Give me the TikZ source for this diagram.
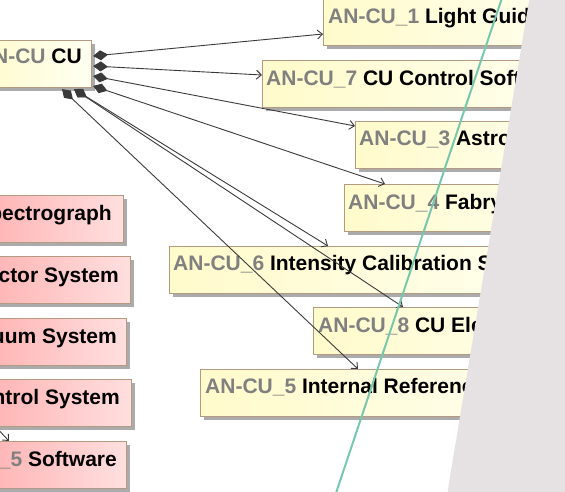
\documentclass[tikz,border=0pt]{standalone}
\usepackage{fontspec}
\setmainfont{Liberation Sans}
\usetikzlibrary{arrows.meta,shadows,calc}
\definecolor{bord}{HTML}{B39A80}
\definecolor{yL}{HTML}{FFFBCB}
\definecolor{yR}{HTML}{FFFFF2}
\definecolor{rL}{HTML}{FFA8A8}
\definecolor{rR}{HTML}{FFDFDF}
\definecolor{idg}{HTML}{808080}
\definecolor{conc}{HTML}{3A3A3A}
\definecolor{tealc}{HTML}{78C8AE}
\definecolor{greyp}{HTML}{E6E1E2}
\begin{document}
\begin{tikzpicture}[x=1pt,y=-1pt,
  box/.style={draw=bord, line width=1.1pt, anchor=north west, inner sep=0pt,
    minimum height=47pt,
    drop shadow={shadow xshift=3.5pt, shadow yshift=-3.5pt, fill=black!33, opacity=1}},
  ybox/.style={box, left color=yL, right color=yR},
  rbox/.style={box, left color=rL, right color=rR},
  lbl/.style={inner sep=0pt, font=\fontsize{21}{25}\selectfont\bfseries},
  conn/.style={draw=conc, line width=0.9pt},
  comp/.style={conn, {Diamond[length=15pt,width=10pt,fill=conc]}-{Straight Barb[length=5pt,width=9pt]}}
]
\useasboundingbox (0,0) rectangle (565,491);
\clip (0,0) rectangle (565,491);

% left (red) boxes
\node[rbox, minimum width=173pt] (r1) at (-50,195) {};
\node[rbox, minimum width=180pt] (r2) at (-50,256) {};
\node[rbox, minimum width=176pt] (r3) at (-50,318) {};
\node[rbox, minimum width=181pt] (r4) at (-50,379) {};
\node[rbox, minimum width=176pt] (r5) at (-50,441) {};
\node[lbl, anchor=base east] (rt1) at (112,220) {pectrograph};
\node[lbl, anchor=base east] (rt2) at (119,282) {ector System};
\node[lbl, anchor=base east] (rt3) at (117,343) {uum System};
\node[lbl, anchor=base east] (rt4) at (120,404) {ntrol System};
\node[lbl, anchor=base east] (rt5) at (117,466) {\textcolor{idg}{\_5} Software};

% CU box
\node[ybox, minimum width=113pt] (cu) at (-22,40) {};
\node[lbl, anchor=base east] (cut) at (82,63) {\textcolor{idg}{N-CU} CU};

% yellow boxes
\node[ybox, minimum width=277pt] (b1) at (323,-2) {};
\node[ybox, minimum width=338pt] (b7) at (262,60) {};
\node[ybox, minimum width=245pt] (b3) at (355,121) {};
\node[ybox, minimum width=256pt] (b4) at (344,184) {};
\node[ybox, minimum width=431pt] (b6) at (169,246) {};
\node[ybox, minimum width=287pt] (b8) at (313,307) {};
\node[ybox, minimum width=400pt] (b5) at (200,369) {};

\node[lbl, anchor=base west] (t1) at (328,23) {\textcolor{idg}{AN-CU\_1} Light Guid};
\node[lbl, anchor=base west] (t7) at (266,85) {\textcolor{idg}{AN-CU\_7} CU Control Soft};
\node[lbl, anchor=base west] (t3) at (359,145) {\textcolor{idg}{AN-CU\_3} Astro};
\node[lbl, anchor=base west] (t4) at (348,209) {\textcolor{idg}{AN-CU\_4} Fabry};
\node[lbl, anchor=base west] (t6) at (173,270) {\textcolor{idg}{AN-CU\_6} Intensity Calibration S};
\node[lbl, anchor=base west] (t8) at (318,332) {\textcolor{idg}{AN-CU\_8} CU Ele};
\node[lbl, anchor=base west] (t5) at (205,393) {\textcolor{idg}{AN-CU\_5} Internal Referenc};

% connectors
\draw[comp] ($(cu.north east)+(1,16)$) -- ($(b1.north west)+(0,36)$);
\draw[comp] ($(cu.north east)+(1,26)$) -- ($(b7.north west)+(0,15)$);
\draw[comp] ($(cu.north east)+(1,36)$) -- ($(b3.north west)+(0,5)$);
\draw[comp] ($(cu.north east)+(1,46)$) -- ($(b4.north west)+(41,0)$);
\draw[comp] ($(cu.south west)+(84,1)$) -- ($(b5.north west)+(158,0)$);
\draw[comp] ($(cu.south west)+(96,1)$) -- ($(b6.north west)+(159,0)$);
\draw[comp] ($(cu.south west)+(96,1)$) -- ($(b8.north west)+(90,0)$);

\coordinate (ca) at (-8,423);
\draw[conn, -{Straight Barb[length=5pt,width=9pt]}] (ca) -- ($(r5.north west)+(59,0)$);

% overlays
\draw[tealc, line width=2pt] (502,-2) -- (336,493);
\fill[greyp] (529.5,-2) -- (570,-2) -- (570,495) -- (447,495) -- cycle;
\end{tikzpicture}
\end{document}
